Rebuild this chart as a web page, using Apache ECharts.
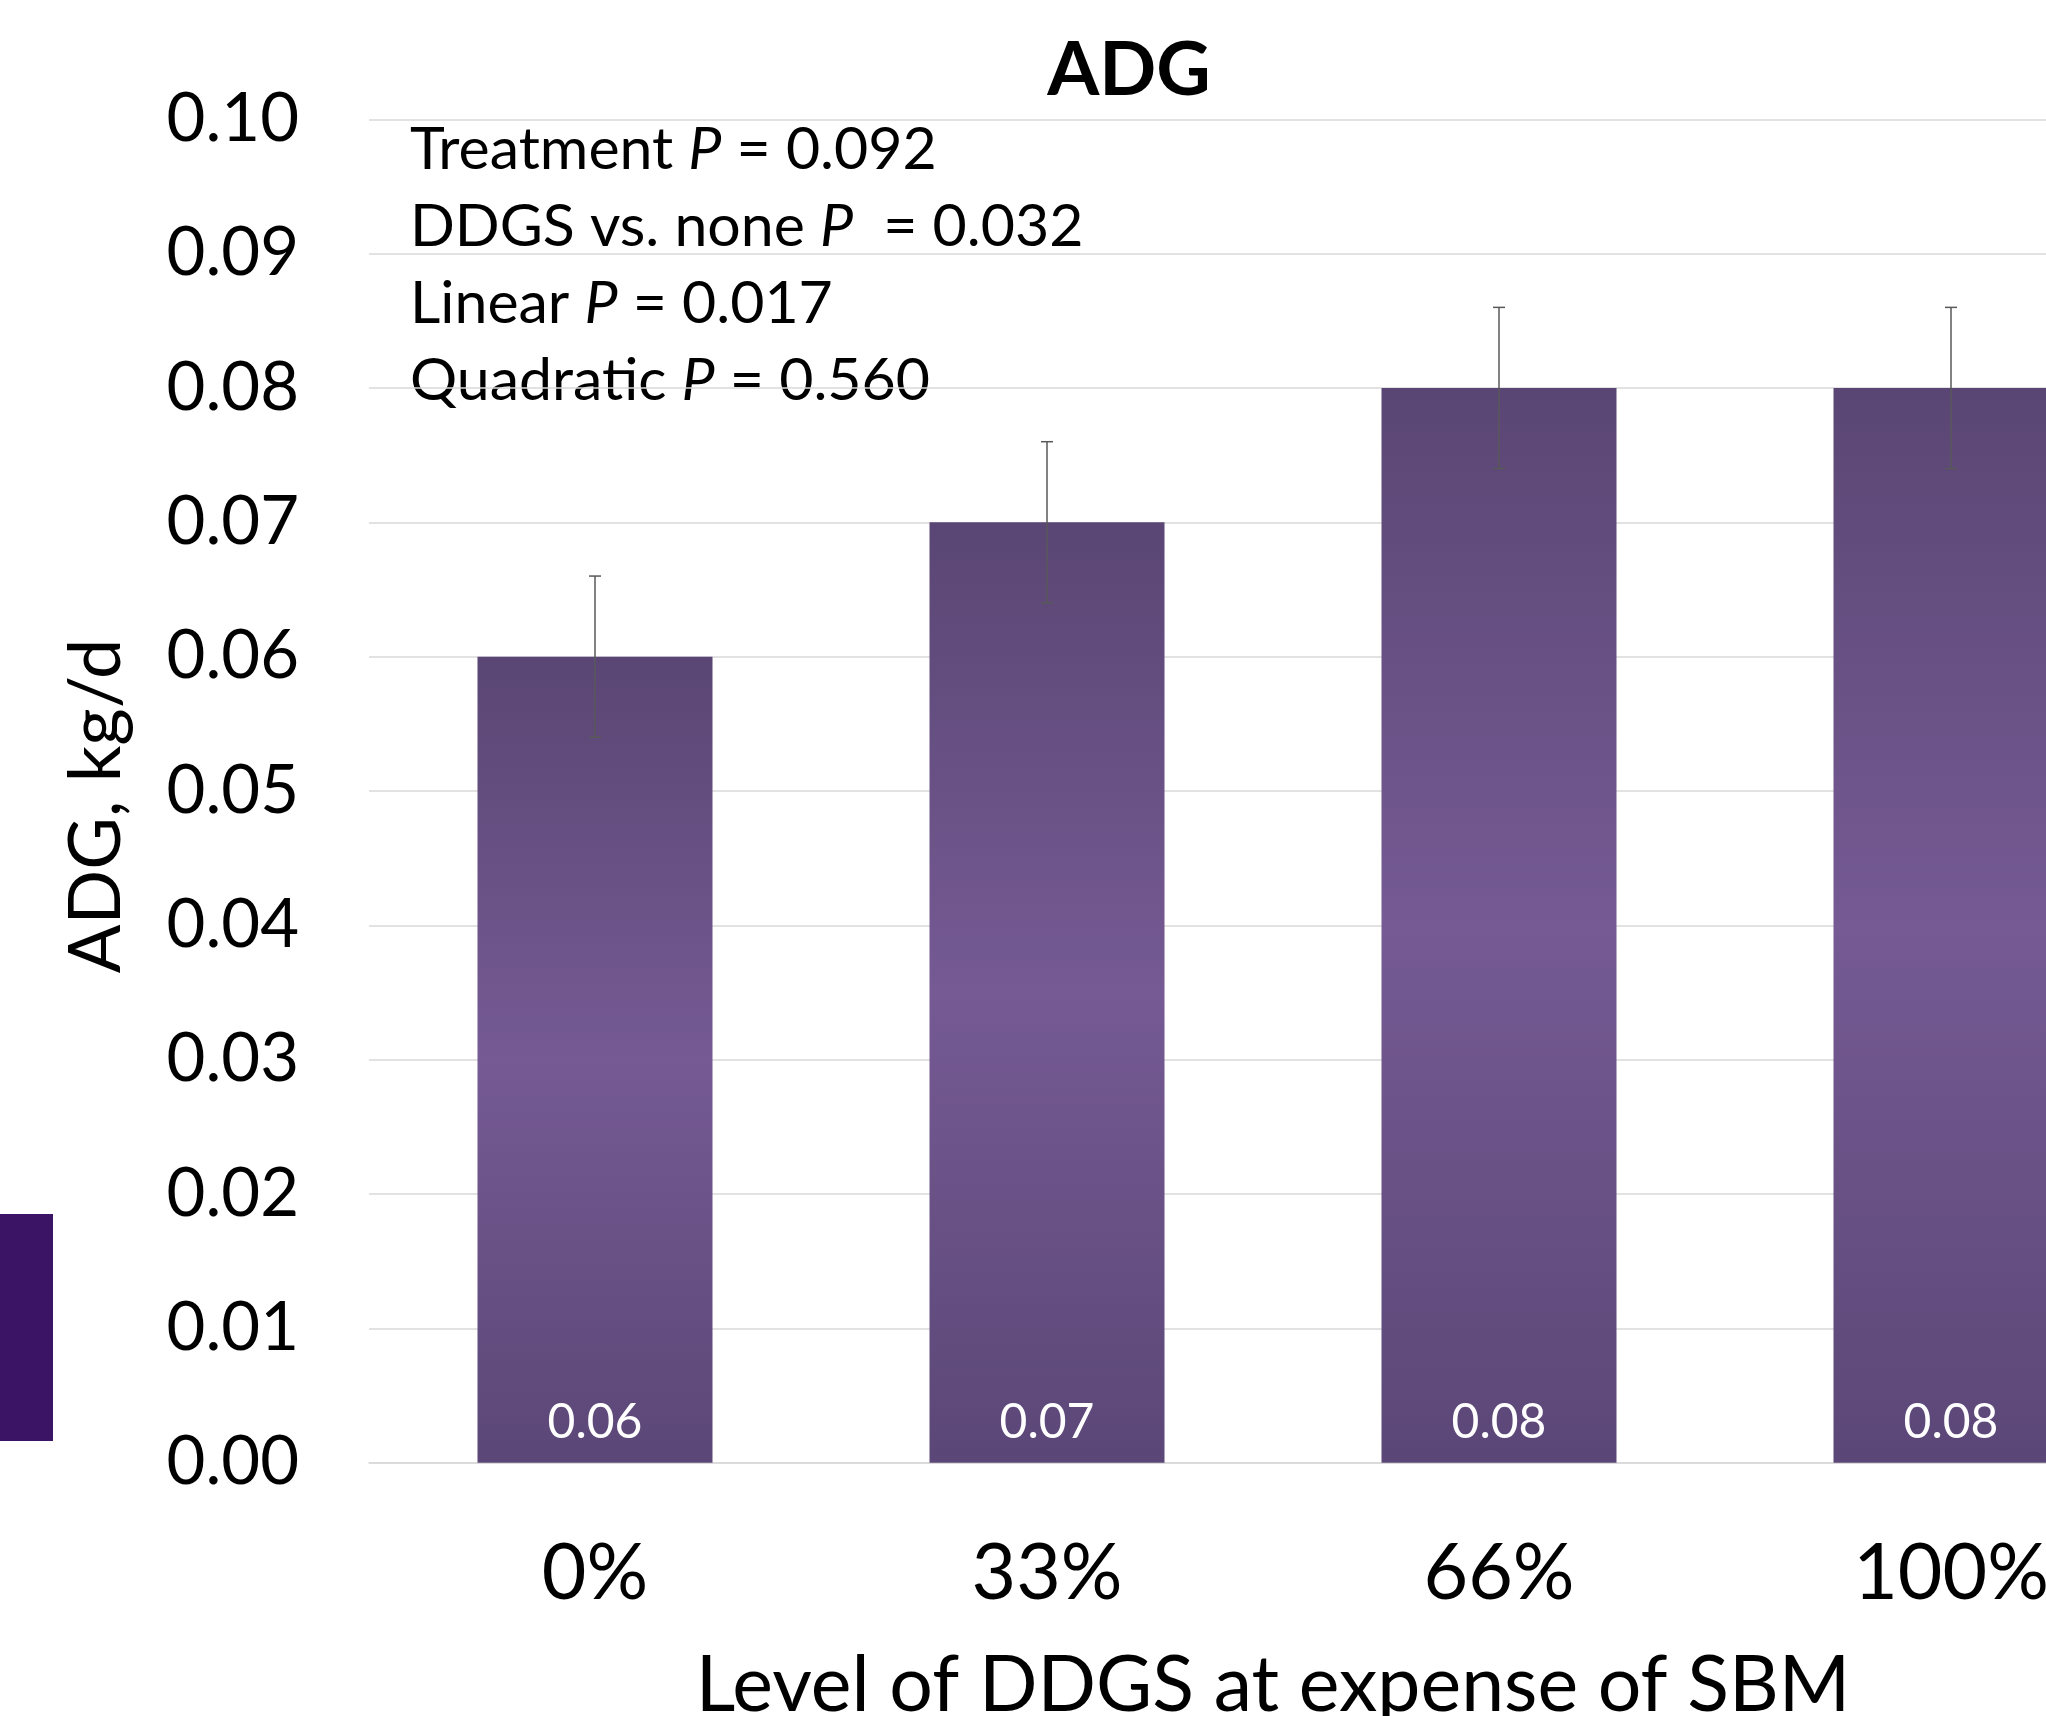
<!DOCTYPE html>
<html>
<head>
<meta charset="utf-8">
<script src="https://cdn.jsdelivr.net/npm/echarts@6/dist/echarts.min.js"></script>
<style>
html,body{margin:0;padding:0;background:#fff;}
#chart{width:2046px;height:1716px;}
</style>
</head>
<body>
<div id="chart"></div>
<script>
const categories = ['0%', '33%', '66%', '100%'];
const adgValues = [0.06, 0.07, 0.08, 0.08];
const adgSE = [0.006, 0.006, 0.006, 0.006];
const statLines = [
  ['Treatment ', 'P', ' = 0.092'],
  ['DDGS vs. none ', 'P', '  = 0.032'],
  ['Linear ', 'P', ' = 0.017'],
  ['Quadratic ', 'P', ' = 0.560']
];

const FONT = 'Lato';
const chart = echarts.init(document.getElementById('chart'));

const barGrad = new echarts.graphic.LinearGradient(0, 0, 0, 1, [
  {offset: 0, color: '#5a4674'},
  {offset: 0.5, color: '#755a93'},
  {offset: 1, color: '#5b4777'}
]);

const errData = categories.map((c, i) => [i, adgValues[i] - adgSE[i], adgValues[i] + adgSE[i]]);

const statGraphics = statLines.map((ln, i) => ({
  type: 'text',
  left: 410,
  top: 120 + i * 77,
  style: {
    text: '{n|' + ln[0] + '}{i|' + ln[1] + '}{n|' + ln[2] + '}',
    rich: {
      n: {fontFamily: FONT, fontSize: 59, fill: '#000'},
      i: {fontFamily: FONT, fontSize: 59, fontStyle: 'italic', fill: '#000'}
    }
  }
}));

chart.setOption({
  backgroundColor: '#ffffff',
  animation: false,
  title: {
    text: 'ADG',
    left: 1124,
    top: 28,
    textAlign: 'center',
    textStyle: {fontFamily: FONT, fontWeight: 'bold', fontSize: 75, color: '#000'}
  },
  grid: {left: 369, width: 1808, top: 119.3, height: 1343.4, containLabel: false, outerBoundsMode: 'none'},
  xAxis: {
    type: 'category',
    data: categories,
    name: 'Level of DDGS at expense of SBM',
    nameLocation: 'middle',
    nameGap: 185,
    nameTextStyle: {fontFamily: FONT, fontSize: 77, color: '#000'},
    axisLine: {show: true, lineStyle: {color: '#d9d9d9', width: 1.5}},
    axisTick: {show: false},
    axisLabel: {fontFamily: FONT, fontSize: 77, color: '#000', margin: 73}
  },
  yAxis: {
    type: 'value',
    min: 0,
    max: 0.1,
    interval: 0.01,
    name: 'ADG, kg/d',
    nameLocation: 'middle',
    nameGap: 236,
    nameRotate: 90,
    nameTextStyle: {fontFamily: FONT, fontSize: 72, color: '#000', padding: [0, 30, 0, 0]},
    axisLine: {show: false},
    axisTick: {show: false},
    axisLabel: {fontFamily: FONT, fontSize: 67, color: '#000', margin: 70,
      formatter: v => v.toFixed(2)},
    splitLine: {lineStyle: {color: '#d9d9d9', width: 1.5}}
  },
  series: [
    {
      type: 'bar',
      data: adgValues,
      barWidth: 235,
      itemStyle: {color: barGrad},
      label: {
        show: true,
        position: 'insideBottom',
        distance: 16,
        fontFamily: FONT,
        fontSize: 48,
        color: '#fff',
        formatter: p => p.value.toFixed(2)
      }
    },
    {
      type: 'custom',
      data: errData,
      z: 10,
      renderItem: function (params, api) {
        const x = api.value(0);
        const lo = api.coord([x, api.value(1)]);
        const hi = api.coord([x, api.value(2)]);
        const hw = 6;
        const st = {stroke: '#595959', lineWidth: 1.5};
        return {
          type: 'group',
          children: [
            {type: 'line', shape: {x1: hi[0], y1: hi[1], x2: lo[0], y2: lo[1]}, style: st},
            {type: 'line', shape: {x1: hi[0] - hw, y1: hi[1], x2: hi[0] + hw, y2: hi[1]}, style: st},
            {type: 'line', shape: {x1: lo[0] - hw, y1: lo[1], x2: lo[0] + hw, y2: lo[1]}, style: st}
          ]
        };
      }
    }
  ],
  graphic: [
    {type: 'rect', left: 0, top: 1214, shape: {width: 53, height: 227}, style: {fill: '#3c1466'}}
  ].concat(statGraphics)
});
</script>
</body>
</html>
